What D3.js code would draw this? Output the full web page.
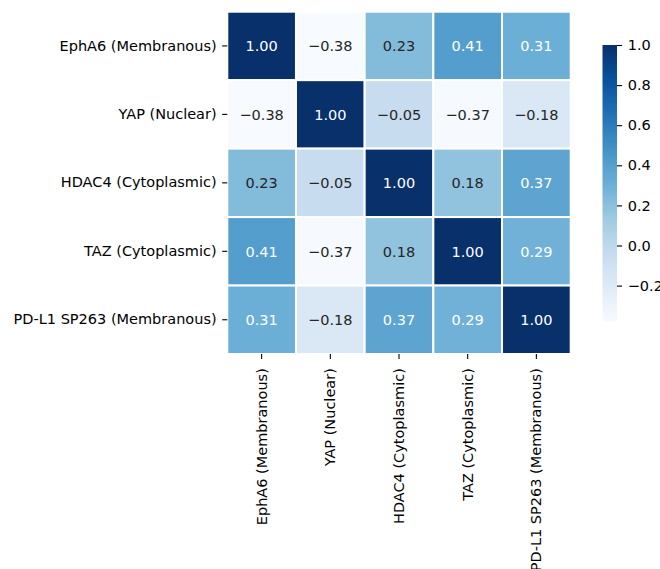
<!DOCTYPE html>
<html>
<head>
<meta charset="utf-8">
<script src="https://cdn.jsdelivr.net/npm/d3@7"></script>
<style>
  html, body { margin: 0; padding: 0; background: #fff; }
  svg { display: block; font-family: "DejaVu Sans", sans-serif; }
</style>
</head>
<body>
<svg id="chart" width="660" height="569"></svg>
<script>
// Marker labels (same order on both axes)
const markers = [
  "EphA6 (Membranous)",
  "YAP (Nuclear)",
  "HDAC4 (Cytoplasmic)",
  "TAZ (Cytoplasmic)",
  "PD-L1 SP263 (Membranous)"
];

// Correlation matrix rows
const rowEphA6 = [1.00, -0.38, 0.23, 0.41, 0.31];
const rowYAP   = [-0.38, 1.00, -0.05, -0.37, -0.18];
const rowHDAC4 = [0.23, -0.05, 1.00, 0.18, 0.37];
const rowTAZ   = [0.41, -0.37, 0.18, 1.00, 0.29];
const rowPDL1  = [0.31, -0.18, 0.37, 0.29, 1.00];
const corrRows = [rowEphA6, rowYAP, rowHDAC4, rowTAZ, rowPDL1];

// Colour bar tick values
const cbarTicks = [-0.2, 0.0, 0.2, 0.4, 0.6, 0.8, 1.0];

// Blues colormap anchor colours (ColorBrewer 9-class)
const bluesStops = ["#f7fbff", "#deebf7", "#c6dbef", "#9ecae1", "#6baed6",
                    "#4292c6", "#2171b5", "#08519c", "#08306b"];

const cells = [];
corrRows.forEach((row, i) => row.forEach((v, j) => cells.push({ r: markers[i], c: markers[j], v })));

const vmin = d3.min(cells, d => d.v);
const vmax = d3.max(cells, d => d.v);

const blues = d3.piecewise(d3.interpolateRgb, bluesStops);
const color = d3.scaleSequential(blues).domain([vmin, vmax]);

// Relative luminance used to pick annotation colour
function luminance(c) {
  const rgb = d3.rgb(c);
  const lin = [rgb.r, rgb.g, rgb.b].map(x => {
    x /= 255;
    return x <= 0.03928 ? x / 12.92 : Math.pow((x + 0.055) / 1.055, 2.4);
  });
  return 0.2126 * lin[0] + 0.7152 * lin[1] + 0.0722 * lin[2];
}

const svg = d3.select("#chart");
const fontPx = 14.5;
const tickLen = 5.1, tickPad = 5.6;

const x = d3.scaleBand().domain(markers).range([227.3, 570.7]);
const y = d3.scaleBand().domain(markers).range([11.7, 354]);

// Heatmap cells
svg.append("g")
  .selectAll("rect")
  .data(cells)
  .join("rect")
  .attr("x", d => x(d.c))
  .attr("y", d => y(d.r))
  .attr("width", x.bandwidth())
  .attr("height", y.bandwidth())
  .attr("fill", d => color(d.v))
  .attr("stroke", "#fff")
  .attr("stroke-width", 2);

// Cell annotations
const fmt2 = d3.format(".2f");
svg.append("g")
  .selectAll("text")
  .data(cells)
  .join("text")
  .attr("x", d => x(d.c) + x.bandwidth() / 2)
  .attr("y", d => y(d.r) + y.bandwidth() / 2)
  .attr("dy", "0.36em")
  .attr("text-anchor", "middle")
  .attr("font-size", fontPx)
  .attr("fill", d => luminance(color(d.v)) > 0.408 ? "#262626" : "#ffffff")
  .text(d => fmt2(d.v));

// Left axis
const yAxis = svg.append("g")
  .attr("transform", `translate(${x.range()[0]},0)`)
  .call(d3.axisLeft(y).tickSize(tickLen).tickPadding(tickPad));
yAxis.select(".domain").remove();
yAxis.selectAll("line").attr("stroke", "#000").attr("stroke-width", 1.1);
yAxis.selectAll("text").attr("font-size", fontPx).attr("fill", "#000")
  .attr("font-family", "DejaVu Sans, sans-serif");

// Bottom axis with rotated labels
const xAxis = svg.append("g")
  .attr("transform", `translate(0,${y.range()[1]})`)
  .call(d3.axisBottom(x).tickSize(tickLen).tickPadding(tickPad));
xAxis.select(".domain").remove();
xAxis.selectAll("line").attr("stroke", "#000").attr("stroke-width", 1.1);
xAxis.selectAll("text")
  .attr("font-size", fontPx).attr("fill", "#000")
  .attr("font-family", "DejaVu Sans, sans-serif")
  .attr("transform", "rotate(-90)")
  .attr("x", -(tickLen + tickPad + 3.5))
  .attr("y", 0)
  .attr("dy", "0.35em")
  .attr("text-anchor", "end");

// Colour bar
const cbX = 602.5, cbW = 14.5;
const cy = d3.scaleLinear().domain([vmin, vmax]).range([321.7, 45]);

const defs = svg.append("defs");
const grad = defs.append("linearGradient")
  .attr("id", "cbarGrad")
  .attr("x1", 0).attr("y1", 1).attr("x2", 0).attr("y2", 0);
grad.selectAll("stop")
  .data(d3.range(0, 1.0001, 1 / 32))
  .join("stop")
  .attr("offset", d => d)
  .attr("stop-color", d => blues(d));

svg.append("rect")
  .attr("x", cbX)
  .attr("y", cy(vmax))
  .attr("width", cbW)
  .attr("height", cy(vmin) - cy(vmax))
  .attr("fill", "url(#cbarGrad)");

const cAxis = svg.append("g")
  .attr("transform", `translate(${cbX + cbW},0)`)
  .call(d3.axisRight(cy).tickValues(cbarTicks).tickFormat(d3.format(".1f"))
    .tickSize(tickLen).tickPadding(tickPad));
cAxis.select(".domain").remove();
cAxis.selectAll("line").attr("stroke", "#000").attr("stroke-width", 1.1);
cAxis.selectAll("text").attr("font-size", fontPx).attr("fill", "#000")
  .attr("font-family", "DejaVu Sans, sans-serif");
</script>
</body>
</html>
